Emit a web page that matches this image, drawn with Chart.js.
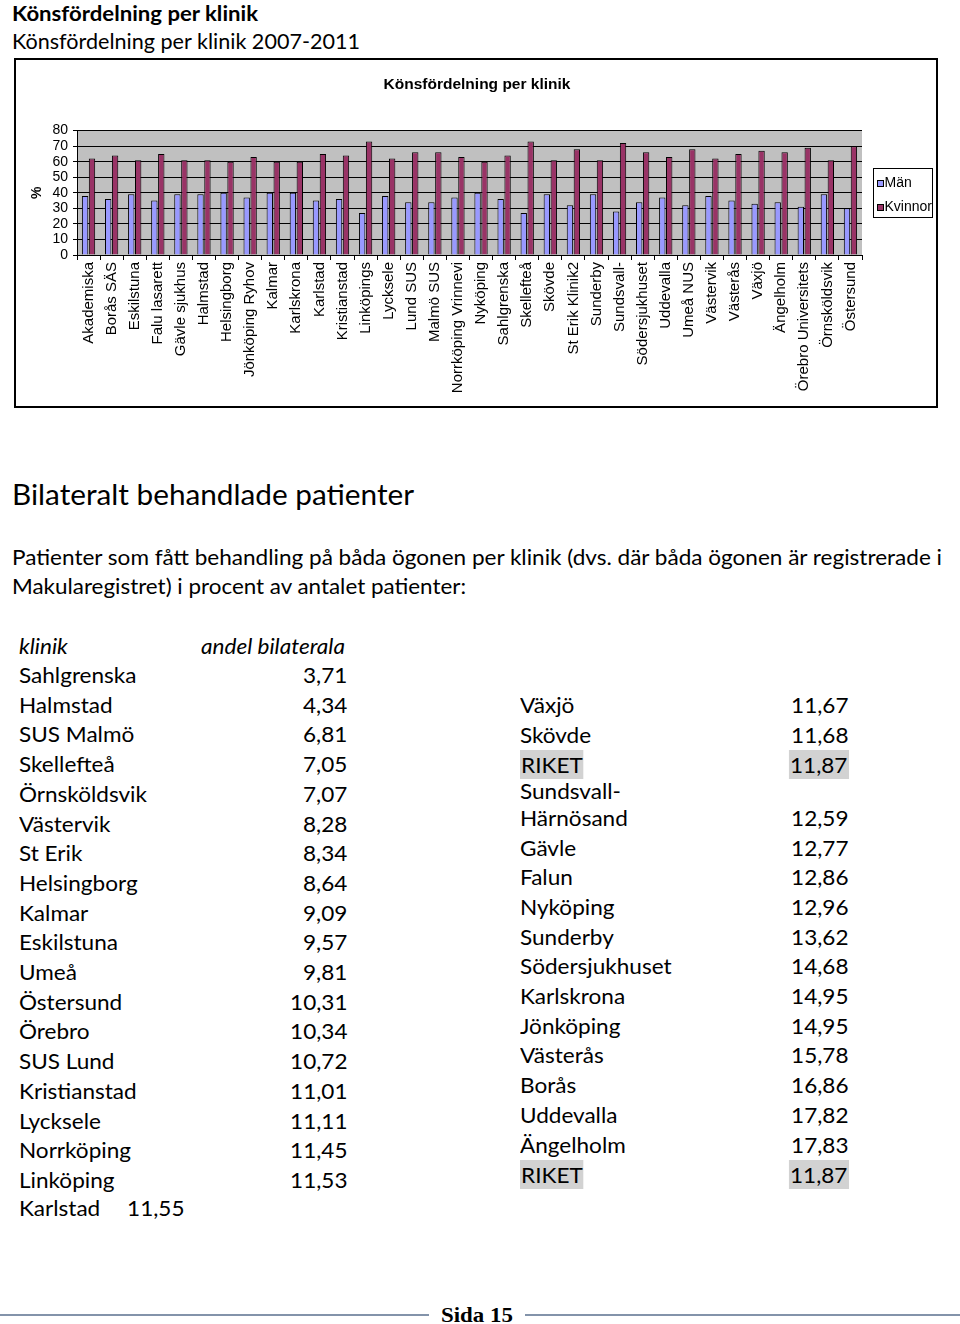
<!DOCTYPE html>
<html><head><meta charset="utf-8">
<script src="https://cdn.jsdelivr.net/npm/chart.js@4.4.1/dist/chart.umd.min.js"></script>
<style>
html,body{margin:0;padding:0;background:#fff;}
body{width:960px;height:1324px;position:relative;overflow:hidden;font-family:Lato,"Open Sans",sans-serif;color:#000;}
.t{position:absolute;white-space:nowrap;transform-origin:left center;}
.t.r{transform-origin:right center;}
#box{position:absolute;left:14px;top:58px;width:920px;height:346px;border:2px solid #000;background:#fff;}
#chart{display:block;}
.hl{background:#d2d2d2;}
.fl{position:absolute;height:2px;background:#8393aa;top:1314px;}
</style></head>
<body>
<div id="box"><canvas id="chart" width="920" height="346" style="width:920px;height:346px"></canvas></div>
<div id="texts"></div>
<div class="fl" style="left:0;width:429px"></div>
<div class="fl" style="left:525px;width:435px"></div>
<script>
// ---------- chart data ----------
const categories = ['Akademiska','Borås SÄS','Eskilstuna','Falu lasarett','Gävle sjukhus','Halmstad','Helsingborg','Jönköping Ryhov','Kalmar','Karlskrona','Karlstad','Kristianstad','Linköpings','Lycksele','Lund SUS','Malmö SUS','Norrköping Vrinnevi','Nyköping','Sahlgrenska','Skellefteå','Skövde','St Erik Klinik2','Sunderby','Sundsvall-','Södersjukhuset','Uddevalla','Umeå NUS','Västervik','Västerås','Växjö','Ängelholm','Örebro Universitets','Örnsköldsvik','Östersund'];
const manValues = [38,36,39,35,39,39,40,37,40,40,35,36,27,38,34,34,37,40,36,27,39,32,39,28,34,37,32,38,35,33,34,31,39,30];
const kvinnorValues = [62,64,61,65,61,61,60,63,60,60,65,64,73,62,66,66,63,60,64,73,61,68,61,72,66,63,68,62,65,67,66,69,61,70];
const seriesNames = ['Män','Kvinnor'];
const yMin = 0, yMax = 80, yStep = 10;

// ---------- table data ----------
const leftKlinik = ['Sahlgrenska','Halmstad','SUS Malmö','Skellefteå','Örnsköldsvik','Västervik','St Erik','Helsingborg','Kalmar','Eskilstuna','Umeå','Östersund','Örebro','SUS Lund','Kristianstad','Lycksele','Norrköping','Linköping'];
const leftAndel = ['3,71','4,34','6,81','7,05','7,07','8,28','8,34','8,64','9,09','9,57','9,81','10,31','10,34','10,72','11,01','11,11','11,45','11,53'];
const lastKlinik = 'Karlstad', lastAndel = '11,55';
const rightKlinik = ['Växjö','Skövde','RIKET','Sundsvall-|Härnösand','Gävle','Falun','Nyköping','Sunderby','Södersjukhuset','Karlskrona','Jönköping','Västerås','Borås','Uddevalla','Ängelholm','RIKET'];
const rightAndel = ['11,67','11,68','11,87','12,59','12,77','12,86','12,96','13,62','14,68','14,95','14,95','15,78','16,86','17,82','17,83','11,87'];

// ---------- chart ----------
const AR = '"Liberation Sans", Arial, sans-serif';
const plotBg = {
  id:'plotBg',
  beforeDraw(chart){
    const {ctx, chartArea:a} = chart;
    ctx.save(); ctx.fillStyle='#fff'; ctx.fillRect(0,0,chart.width,chart.height);
    ctx.fillStyle='#c0c0c0'; ctx.fillRect(a.left,a.top,a.right-a.left,a.bottom-a.top); ctx.restore();
  }
};
const legendBox = {
  id:'legendBox',
  afterDraw(chart){
    const ctx = chart.ctx, a = chart.chartArea, ds = chart.data.datasets;
    const left = Math.round(a.right + 11), right = chart.width - 3;
    const h = 49, top = Math.round((a.top + a.bottom)/2 - h/2);
    ctx.save();
    ctx.fillStyle='#fff'; ctx.fillRect(left, top, right-left, h);
    ctx.strokeStyle='#000'; ctx.lineWidth=1;
    ctx.strokeRect(left+0.5, top+0.5, right-left-1, h);
    ctx.font = '14px ' + AR; ctx.textBaseline='middle'; ctx.textAlign='left';
    ds.forEach((d,i)=>{
      const y = top + 14.5 + i*24;
      const sy = Math.round(y-3);
      ctx.fillStyle = d.backgroundColor; ctx.fillRect(left+4, sy, 7, 7);
      ctx.strokeStyle='#000'; ctx.strokeRect(left+4.5, sy+0.5, 6, 6);
      ctx.fillStyle='#000'; ctx.fillText(d.label, left+11.5, y+0.5);
    });
    ctx.restore();
  }
};
new Chart(document.getElementById('chart'), {
  type:'bar',
  data:{
    labels: categories,
    datasets:[
      {label:seriesNames[0], data:manValues, backgroundColor:'#9999ff', borderColor:'#000', borderWidth:1, categoryPercentage:0.6, barPercentage:0.92},
      {label:seriesNames[1], data:kvinnorValues, backgroundColor:'#993366', borderColor:'#000', borderWidth:1, categoryPercentage:0.6, barPercentage:0.92}
    ]
  },
  options:{
    responsive:false, animation:false, devicePixelRatio:1,
    layout:{padding:{left:2,right:0,top:0,bottom:0}},
    plugins:{
      title:{display:true, text:'Könsfördelning per klinik', color:'#000', font:{family:AR, size:15.5, weight:'bold'}, padding:{top:15,bottom:37}},
      legend:{display:false},
      tooltip:{enabled:false}
    },
    scales:{
      x:{
        afterFit(s){ s.height = 151; },
        grid:{drawOnChartArea:false, drawTicks:true, tickLength:5, color:'#000'},
        border:{display:true, color:'#000'},
        ticks:{autoSkip:false, minRotation:90, maxRotation:90, padding:2, color:'#000', font:{family:AR, size:15}}
      },
      y:{
        min:yMin, max:yMax,
        afterFit(s){ s.width = 59; },
        grid:{color:'#000', tickLength:4},
        border:{display:true, color:'#000'},
        ticks:{stepSize:yStep, autoSkip:false, padding:5, color:'#000', font:{family:AR, size:14}},
        title:{display:true, text:'%', color:'#000', font:{family:AR, size:14, weight:'bold'}, padding:{top:11,bottom:0}}
      },
      legendSpace:{
        type:'linear', position:'right', display:true,
        afterFit(s){ s.width = 74; },
        grid:{display:false}, border:{display:false}, ticks:{display:false}
      }
    }
  },
  plugins:[plotBg, legendBox]
});

// ---------- page text ----------
const host = document.getElementById('texts');
const items = [];
function addText(str, o){
  const d = document.createElement('div');
  d.className = 't' + (o.align==='right' ? ' r' : '');
  const size = o.size || 21;
  const lh = Math.round(size*1.2);
  d.style.fontSize = size+'px';
  d.style.lineHeight = lh+'px';
  d.style.top = (o.cy - lh/2)+'px';
  if(o.align==='right') d.style.right = (960 - o.x)+'px'; else d.style.left = o.x+'px';
  if(o.bold) d.style.fontWeight = 'bold';
  if(o.italic) d.style.fontStyle = 'italic';
  if(o.family) d.style.fontFamily = o.family;
  if(o.hl){ const sp=document.createElement('span'); sp.className='hl'; sp.textContent=str; sp.style.padding='2px 1px'; d.appendChild(sp); }
  else d.textContent = str;
  host.appendChild(d);
  items.push({el:d, fit:o.fit, global:o.global});
  return d;
}
addText('Könsfördelning per klinik', {x:12, cy:12.5, size:21, bold:true, fit:246});
addText('Könsfördelning per klinik 2007-2011', {x:12, cy:40.5, size:22, fit:348});
addText('Bilateralt behandlade patienter', {x:12, cy:493, size:29, fit:402});
addText('Patienter som fått behandling på båda ögonen per klinik (dvs. där båda ögonen är registrerade i', {x:12, cy:556, size:21, fit:930});
addText('Makularegistret) i procent av antalet patienter:', {x:12, cy:585, size:21, fit:454});
addText('klinik', {x:19, cy:645, size:21, italic:true, global:true});
addText('andel bilaterala', {x:201, cy:645, size:21, italic:true, global:true});
leftKlinik.forEach((k,i)=>{
  const cy = 674.5 + i*29.7;
  addText(k, {x:19, cy, size:21, global:true});
  addText(leftAndel[i], {x:347, cy, size:21, align:'right', global:true});
});
addText(lastKlinik, {x:19, cy:1207, size:21, global:true});
addText(lastAndel, {x:184, cy:1207, size:21, align:'right', global:true});
const rightY = [704,734,764,817,847,876,906,936,965,995,1025,1054,1084,1114,1144,1174];
rightKlinik.forEach((k,i)=>{
  const cy = rightY[i];
  const hl = k==='RIKET';
  if(k.indexOf('|')>=0){
    const parts = k.split('|');
    addText(parts[0], {x:520, cy:cy-27, size:21, global:true});
    addText(parts[1], {x:520, cy, size:21, global:true});
  } else addText(k, {x:520, cy, size:21, global:true, hl});
  addText(rightAndel[i], {x:848, cy, size:21, align:'right', global:true, hl});
});
const sida = addText('Sida 15', {x:441, cy:1315, size:22, bold:true, family:'"Liberation Serif", serif', fit:72});
sida.style.background='#fff';

function fitAll(){
  const refEl = items[3].el;
  refEl.style.transform='none';
  const g = 930 / refEl.getBoundingClientRect().width;
  items.forEach(it=>{
    it.el.style.transform='none';
    if(it.fit){ const w = it.el.getBoundingClientRect().width; it.el.style.transform='scaleX('+(it.fit/w)+')'; }
    else if(it.global){ it.el.style.transform='scaleX('+g+')'; }
  });
}
fitAll();
if(document.fonts && document.fonts.ready) document.fonts.ready.then(fitAll);
</script>
</body></html>
